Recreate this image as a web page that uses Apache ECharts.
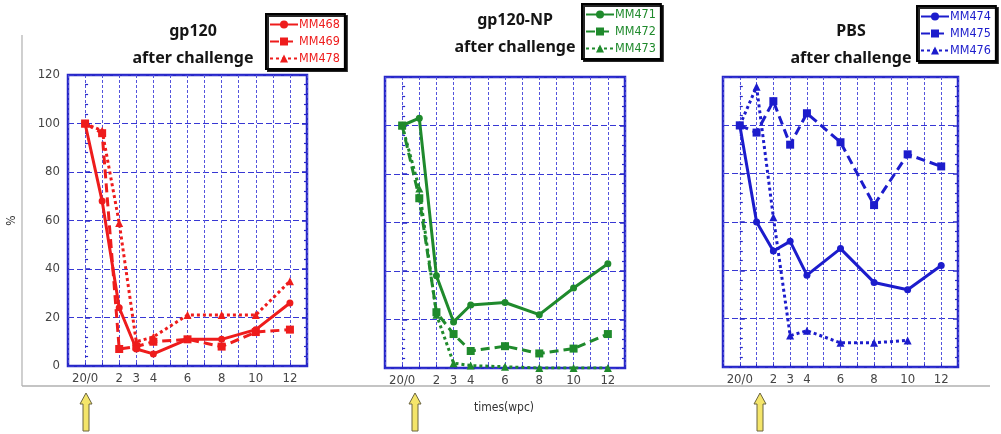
<!DOCTYPE html>
<html>
<head>
<meta charset="utf-8">
<script src="https://cdn.jsdelivr.net/npm/echarts@6/dist/echarts.min.js"></script>
<style>
html,body{margin:0;padding:0;background:#fff;}
#c{width:1001px;height:434px;}
</style>
</head>
<body>
<div id="c"></div>
<script>
// ---- data ----
const weeks = [0, 1, 2, 3, 4, 6, 8, 10, 12];
const tickValues = [0, 2, 3, 4, 6, 8, 10, 12];
const tickLabels = ['20/0', '2', '3', '4', '6', '8', '10', '12'];
const panelTitles = ['gp120\nafter challenge', 'gp120-NP\nafter challenge', 'PBS\nafter challenge'];

const mm468 = [100, 68, 24, 7, 5, 11, 11, 15, 26];
const mm469 = [100, 96, 7, 8, 10, 11, 8, 14, 15];
const mm478 = [100, 97, 59, 10, 12, 21, 21, 21, 35];

const mm471 = [100, 103, 38, 19, 26, 27, 22, 33, 43];
const mm472 = [100, 70, 23, 14, 7, 9, 6, 8, 14];
const mm473 = [100, 74, 22, 2, 1, 0.5, 0, 0, 0];

const mm474 = [100, 60, 48, 52, 38, 49, 35, 32, 42];
const mm475 = [100, 97, 110, 92, 105, 93, 67, 88, 83];
const mm476 = [100, 116, 62, 13, 15, 10, 10, 11, null];

const panelSeries = [
  [['MM468', mm468], ['MM469', mm469], ['MM478', mm478]],
  [['MM471', mm471], ['MM472', mm472], ['MM473', mm473]],
  [['MM474', mm474], ['MM475', mm475], ['MM476', mm476]]
];

// ---- styles ----
const colors = ['#ee1c1c', '#1f8a2c', '#1c1ccc'];
const lineTypes = ['solid', [9, 5], [3, 3]];
const symbols = ['circle', 'rect', 'triangle'];
const symbolSizes = [7, 8, 8];
const grids = [
  {left: 68, top: 75, width: 239, height: 291},
  {left: 385, top: 77, width: 240, height: 291},
  {left: 723, top: 77, width: 235, height: 290}
];
const titlePos = [{x: 188, y: 13}, {x: 510, y: 2}, {x: 846, y: 13}];
const legendPos = [{x: 266, y: 14}, {x: 582, y: 4}, {x: 917, y: 6}];
const arrowX = [86, 415, 760];
const gridBlue = '#2727c8';
const font = 'DejaVu Sans Condensed, DejaVu Sans, sans-serif';

const chart = echarts.init(document.getElementById('c'), null, {renderer: 'canvas'});

const option = {
  backgroundColor: '#ffffff',
  animation: false,
  title: panelTitles.map((t, i) => ({
    text: t,
    left: titlePos[i].x,
    top: titlePos[i].y,
    textAlign: 'center',
    textStyle: {fontFamily: 'Noto Sans, sans-serif', fontSize: 16, fontWeight: 'bold', lineHeight: 27, color: '#151515'}
  })),
  legend: panelSeries.map((ps, i) => ({
    data: ps.map(p => p[0]),
    orient: 'vertical',
    left: legendPos[i].x,
    top: legendPos[i].y,
    itemWidth: 28,
    itemHeight: 10,
    itemGap: 4,
    padding: [4, 5, 4, 3],
    backgroundColor: '#fff',
    borderColor: '#000',
    borderWidth: 2,
    shadowColor: 'rgba(0,0,0,0.85)',
    shadowOffsetX: 2,
    shadowOffsetY: 2,
    shadowBlur: 0,
    textStyle: {color: colors[i], fontSize: 12.5, fontFamily: font, padding: [0, 0, 0, -4]},
    selectedMode: false
  })),
  grid: grids.map(g => Object.assign({show: true, borderColor: gridBlue, borderWidth: 2.5, backgroundColor: 'transparent', containLabel: false}, g)),
  xAxis: grids.map((g, i) => ({
    type: 'value', gridIndex: i, min: -1, max: 13, interval: 1,
    axisLine: {show: false},
    axisTick: {show: true, inside: true, length: 3, lineStyle: {color: gridBlue}},
    splitLine: {show: true, lineStyle: {color: '#5454dc', width: 1, type: [3, 2]}},
    axisLabel: {
      show: true, margin: 6, color: '#444', fontSize: 13, fontFamily: font,
      formatter: v => { const k = tickValues.indexOf(v); return k >= 0 ? tickLabels[k] : ''; }
    }
  })),
  yAxis: [],
  series: [],
  graphic: []
};

grids.forEach((g, i) => {
  option.yAxis.push({
    type: 'value', gridIndex: i, min: 0, max: 120, interval: 20, position: 'left',
    name: i === 0 ? '%' : '', nameLocation: 'middle', nameGap: 50, nameRotate: 90,
    nameTextStyle: {color: '#333', fontSize: 12, fontFamily: font},
    axisLine: {show: false},
    axisTick: {show: true, inside: true, length: 5, lineStyle: {color: gridBlue, width: 1.5}},
    minorTick: {show: true, splitNumber: 5, length: 3, lineStyle: {color: gridBlue, width: 1.2}},
    splitLine: {show: true, lineStyle: {color: '#3838d4', width: 1.2, type: [6, 3]}},
    axisLabel: {show: i === 0, color: '#444', fontSize: 13, fontFamily: font, margin: 8}
  });
  option.yAxis.push({
    type: 'value', gridIndex: i, min: 0, max: 120, interval: 20, position: 'right',
    axisLine: {show: false},
    axisTick: {show: true, inside: true, length: 5, lineStyle: {color: gridBlue, width: 1.5}},
    minorTick: {show: true, splitNumber: 5, length: 3, lineStyle: {color: gridBlue, width: 1.2}},
    splitLine: {show: false},
    axisLabel: {show: false}
  });
  panelSeries[i].forEach((p, j) => {
    const data = [];
    weeks.forEach((w, k) => { if (p[1][k] != null) data.push([w, p[1][k]]); });
    option.series.push({
      name: p[0], type: 'line', xAxisIndex: i, yAxisIndex: i * 2,
      data: data,
      symbol: symbols[j], symbolSize: symbolSizes[j], showSymbol: true,
      itemStyle: {color: colors[i]},
      lineStyle: {color: colors[i], width: 3, type: lineTypes[j]},
      z: 5 - j
    });
  });
});

// frame, axis title and challenge arrows
option.graphic.push(
  {type: 'line', shape: {x1: 22, y1: 35, x2: 22, y2: 386}, style: {stroke: '#b0b0b0', lineWidth: 1.2}, silent: true},
  {type: 'line', shape: {x1: 22, y1: 386, x2: 990, y2: 386}, style: {stroke: '#b0b0b0', lineWidth: 1.5}, silent: true},
  {type: 'text', left: 474, top: 402, style: {text: 'times(wpc)', fill: '#333', font: '12px ' + font}, silent: true}
);
arrowX.forEach(px => {
  const top = 393, bottom = 431;
  option.graphic.push({
    type: 'polygon', silent: true,
    shape: {points: [[px, top], [px + 6, top + 11], [px + 3, top + 11], [px + 3, bottom], [px - 3, bottom], [px - 3, top + 11], [px - 6, top + 11]]},
    style: {fill: '#f4e56a', stroke: '#6b6440', lineWidth: 1}
  });
});

chart.setOption(option);
</script>
</body>
</html>
